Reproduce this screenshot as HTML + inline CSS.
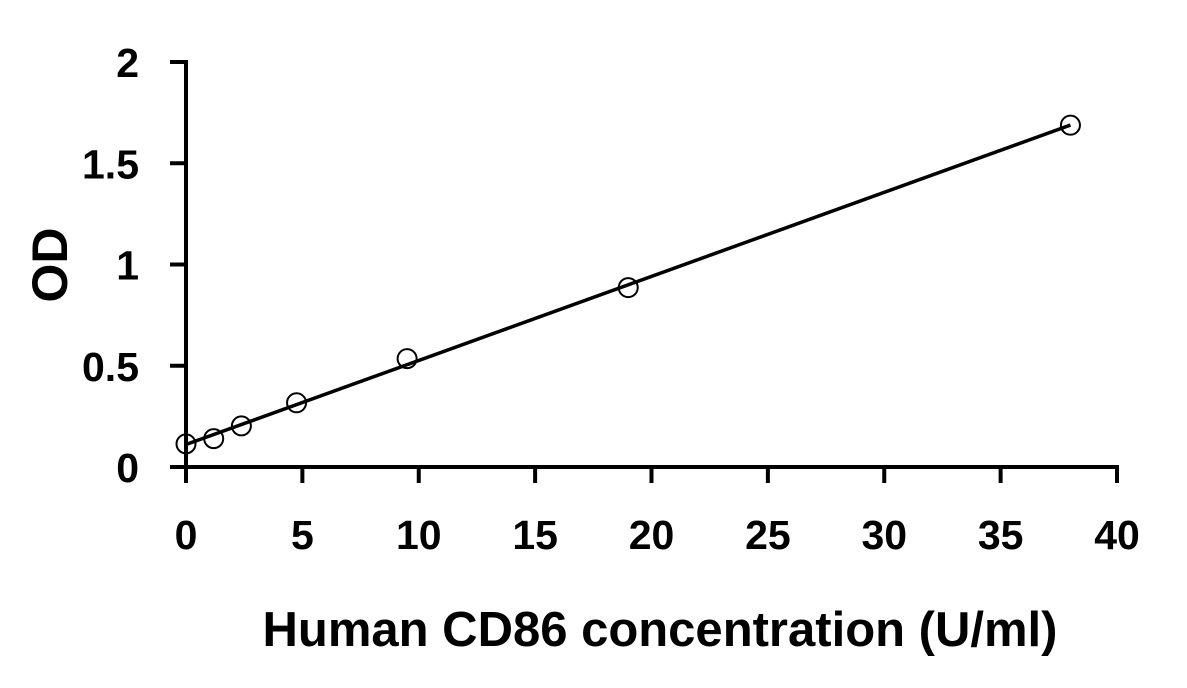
<!DOCTYPE html>
<html><head><meta charset="utf-8"><style>
html,body{margin:0;padding:0;background:#fff;}
svg{display:block;font-family:"Liberation Sans",sans-serif;font-weight:bold;}
</style></head><body>
<svg id="chart" width="1187" height="688" viewBox="0 0 1187 688" xmlns="http://www.w3.org/2000/svg"></svg>
<script>
const xValues=[0,1.19,2.38,4.75,9.5,19,38];
const yValues=[0.114,0.14,0.203,0.317,0.535,0.886,1.688];
const xTicks=[0,5,10,15,20,25,30,35,40];
const yTicks=[0,0.5,1,1.5,2];
const yTickLabels=["0","0.5","1","1.5","2"];
const xTitle="Human CD86 concentration (U/ml)";
const yTitle="OD";

const X0=186,X1=1117,Y0=467,Y1=62;
const sx=v=>X0+(v-0)/(40-0)*(X1-X0);
const sy=v=>Y0-(v-0)/(2-0)*(Y0-Y1);
const svg=document.getElementById('chart');
const NS='http://www.w3.org/2000/svg';
function mk(tag,attrs,parent){const e=document.createElementNS(NS,tag);for(const k in attrs)e.setAttribute(k,attrs[k]);(parent||svg).appendChild(e);return e;}

let e;
e=mk('line',{x1:X0,y1:Y1-2,x2:X0,y2:Y0+16,stroke:'#000','stroke-width':4});


e=mk('line',{x1:X0-16,y1:Y0,x2:X1+2,y2:Y0,stroke:'#000','stroke-width':4});



yTicks.forEach((t,i)=>{
  const tk=mk('line',{x1:X0-16,y1:sy(t),x2:X0,y2:sy(t),stroke:'#000','stroke-width':4});
  
  
  const tx=mk('text',{x:139,y:sy(t)+15,'text-anchor':'end','font-size':41});
  tx.textContent=yTickLabels[i];
  
  
});
xTicks.forEach(t=>{
  const tk=mk('line',{x1:sx(t),y1:Y0,x2:sx(t),y2:Y0+16,stroke:'#000','stroke-width':4});
  
  
  const tx=mk('text',{x:sx(t),y:549,'text-anchor':'middle','font-size':41});
  tx.textContent=String(t);
  
  
});

const n=xValues.length;
const mx=xValues.reduce((a,b)=>a+b)/n,my=yValues.reduce((a,b)=>a+b)/n;
let num=0,den=0;for(let i=0;i<n;i++){num+=(xValues[i]-mx)*(yValues[i]-my);den+=(xValues[i]-mx)**2;}
const slope=num/den,icpt=my-slope*mx;
const xmin=Math.min(...xValues),xmax=Math.max(...xValues);
e=mk('line',{x1:sx(xmin),y1:sy(icpt+slope*xmin),x2:sx(xmax),y2:sy(icpt+slope*xmax),stroke:'#000','stroke-width':3.5});



xValues.forEach((v,i)=>{
  const c=mk('circle',{cx:sx(v),cy:sy(yValues[i]),r:9.5,fill:'none',stroke:'#000','stroke-width':2});
  
  
});

e=mk('text',{x:660,y:646,'text-anchor':'middle','font-size':49});
e.textContent=xTitle;


e=mk('text',{x:0,y:0,'text-anchor':'middle','font-size':50,transform:'translate(67,265) rotate(-90)'});
e.textContent=yTitle;


</script>
</body></html>
